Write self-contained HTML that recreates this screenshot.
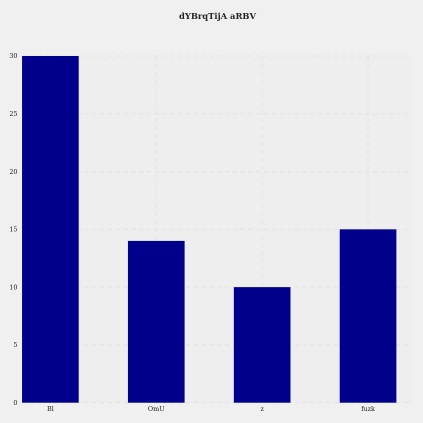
<!DOCTYPE html>
<html>
<head>
<meta charset="utf-8">
<style>
html,body{margin:0;padding:0;background:#f0f0f0;width:423px;height:423px;overflow:hidden}
svg{display:block}
text{font-family:"DejaVu Serif","Liberation Serif",serif}
</style>
</head>
<body>
<svg id="chart" width="423" height="423" viewBox="0 0 423 423" xmlns="http://www.w3.org/2000/svg">
<rect x="0" y="0" width="423" height="423" fill="#f0f0f0"/>
<rect x="22" y="56" width="390" height="346.7" fill="#eeeeee"/>
<text x="217.5" y="19" font-size="8.4" font-weight="bold" text-anchor="middle" fill="#262626">dYBrqTijA aRBV</text>
<g id="grid"></g>
<g id="bars"></g>
<g id="ticks"></g>
</svg>
<script>
const categories = ["Bl", "OmU", "z", "fuzk"];
const values = [30, 14, 10, 15];
const yTicks = [0, 5, 10, 15, 20, 25, 30];

const NS = "http://www.w3.org/2000/svg";
const left = 22, right = 412, top0 = 56, bottom = 402.7;
const yMax = 30;
const xMin = -0.268, xMax = 3.415;
const barUnits = 0.535;

function xScale(v) { return left + (v - xMin) / (xMax - xMin) * (right - left); }
function yScale(v) { return bottom - v / yMax * (bottom - top0); }

const grid = document.getElementById("grid");
const bars = document.getElementById("bars");
const ticks = document.getElementById("ticks");

function line(x1, y1, x2, y2) {
  const l = document.createElementNS(NS, "line");
  l.setAttribute("x1", x1);
  l.setAttribute("y1", y1);
  l.setAttribute("x2", x2);
  l.setAttribute("y2", y2);
  l.setAttribute("stroke", "#e3e3e3");
  l.setAttribute("stroke-width", "1.1");
  l.setAttribute("stroke-dasharray", "4.4 3.4");
  return l;
}

yTicks.forEach(function (t) {
  const y = yScale(t);
  const l = line(left, y, right, y);
  
  
  grid.appendChild(l);

  const label = document.createElementNS(NS, "text");
  
  
  label.setAttribute("x", left - 4.5);
  label.setAttribute("y", y + 2.2);
  label.setAttribute("font-size", "6.4");
  label.setAttribute("text-anchor", "end");
  label.setAttribute("fill", "#1c1c1c");
  label.textContent = t;
  ticks.appendChild(label);
});

categories.forEach(function (c, i) {
  const cx = xScale(i);
  const l = line(cx, top0, cx, bottom);
  
  
  grid.appendChild(l);

  const x0 = xScale(i - barUnits / 2);
  const x1 = xScale(i + barUnits / 2);
  const bar = document.createElementNS(NS, "rect");
  
  
  bar.setAttribute("x", x0);
  bar.setAttribute("y", yScale(values[i]));
  bar.setAttribute("width", x1 - x0);
  bar.setAttribute("height", yScale(0) - yScale(values[i]));
  bar.setAttribute("fill", "#00008b");
  bars.appendChild(bar);

  const label = document.createElementNS(NS, "text");
  
  
  label.setAttribute("x", cx);
  label.setAttribute("y", 411);
  label.setAttribute("font-size", "6.4");
  label.setAttribute("text-anchor", "middle");
  label.setAttribute("fill", "#1c1c1c");
  label.textContent = c;
  ticks.appendChild(label);
});
</script>
</body>
</html>
